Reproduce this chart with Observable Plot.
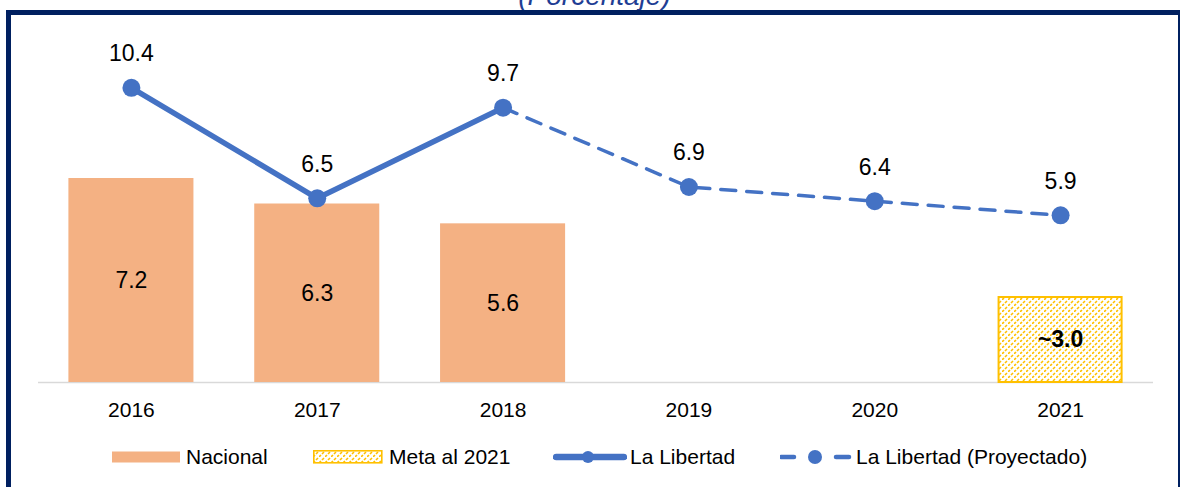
<!DOCTYPE html>
<html>
<head>
<meta charset="utf-8">
<script src="https://cdn.jsdelivr.net/npm/d3@7"></script>
<script src="https://cdn.jsdelivr.net/npm/@observablehq/plot@0.6"></script>
<style>
  html, body { margin: 0; padding: 0; background: #fff; }
  #wrap { position: relative; width: 1181px; height: 487px; overflow: hidden; font-family: "Liberation Sans", Arial, sans-serif; }
  #subtitle { position: absolute; left: 0; width: 1181px; top: -18px; text-align: center; font-size: 28px; line-height: 28px; font-style: italic; color: #1f3e94; padding-left: 8px; box-sizing: border-box; }
  #frame { position: absolute; left: 6px; top: 10px; width: 1174px; height: 500px; box-sizing: border-box; border-top: 5px solid #002060; border-left: 5px solid #002060; border-right: 2px solid #002060; z-index: 3; pointer-events: none; }
  #chart { position: absolute; left: 0; top: 0; }
  .lg { position: absolute; top: 445px; height: 24px; display: flex; align-items: center; font-size: 21px; color: #000; white-space: nowrap; }
  .lg svg { display: block; margin-right: 6px; }
</style>
</head>
<body>
<div id="wrap">
  <div id="subtitle">(Porcentaje)</div>
  <div id="chart"></div>
  <div id="frame"></div>
  <div class="lg" style="left:112px"><svg width="68" height="24"><rect x="0" y="6.5" width="68" height="11" fill="#F4B183"/></svg><span>Nacional</span></div>
  <div class="lg" style="left:313px"><svg width="70" height="24"><defs><pattern id="hatchL" patternUnits="userSpaceOnUse" width="6" height="6"><path d="M0,6 L2,4 M3,3 L5,1" stroke="#FFC000" stroke-width="1.6"/></pattern></defs><rect x="0.8" y="5.8" width="68" height="12" fill="url(#hatchL)" stroke="#FFC000" stroke-width="1.6"/></svg><span>Meta al 2021</span></div>
  <div class="lg" style="left:553px"><svg width="74" height="24" style="margin-right:3px"><line x1="3" y1="12" x2="71" y2="12" stroke="#4472C4" stroke-width="6.5" stroke-linecap="round"/><circle cx="35" cy="12" r="6" fill="#4472C4"/></svg><span>La Libertad</span></div>
  <div class="lg" style="left:780px"><svg width="72" height="24" style="margin-right:4px"><line x1="1" y1="12" x2="14" y2="12" stroke="#4472C4" stroke-width="4.5" stroke-linecap="round"/><circle cx="35" cy="12" r="7" fill="#4472C4"/><line x1="56" y1="12" x2="69" y2="12" stroke="#4472C4" stroke-width="4.5" stroke-linecap="round"/></svg><span>La Libertad (Proyectado)</span></div>
</div>
<script>
const years = ["2016", "2017", "2018", "2019", "2020", "2021"];
const nacionalYears = ["2016", "2017", "2018"];
const nacionalValues = [7.2, 6.3, 5.6];
const libertadYears = ["2016", "2017", "2018"];
const libertadValues = [10.4, 6.5, 9.7];
const proyectadoYears = ["2018", "2019", "2020", "2021"];
const proyectadoValues = [9.7, 6.9, 6.4, 5.9];
const metaYears = ["2021"];
const metaValues = [3.0];
const metaLabels = ["~3.0"];

const nacional = nacionalYears.map((year, i) => ({year, value: nacionalValues[i]}));
const libertad = libertadYears.map((year, i) => ({year, value: libertadValues[i]}));
const proyectado = proyectadoYears.map((year, i) => ({year, value: proyectadoValues[i]}));
const proyectadoOnly = proyectado.slice(1);
const meta = metaYears.map((year, i) => ({year, value: metaValues[i], label: metaLabels[i]}));

const font = "Liberation Sans, Arial, sans-serif";

const chart = Plot.plot({
  width: 1181,
  height: 430,
  marginLeft: 38,
  marginRight: 28,
  marginTop: 42,
  marginBottom: 48,
  style: {background: "transparent", fontFamily: font, overflow: "visible"},
  x: {type: "band", domain: years, padding: 0, round: false, label: null},
  y: {domain: [0, 12], axis: null},
  marks: [
    Plot.ruleY([0], {stroke: "#D9D9D9", strokeWidth: 1.5}),
    Plot.axisX({tickSize: 0, tickPadding: 20, fontSize: 21, fill: "#000", label: null}),
    Plot.barY(nacional, {x: "year", y: "value", fill: "#F4B183", insetLeft: 30.4, insetRight: 30.4}),
    Plot.barY(meta, {x: "year", y: "value", fill: "url(#hatch)", stroke: "#FFC000", strokeWidth: 2, insetLeft: 31.4, insetRight: 31.4}),
    Plot.text(nacional, {x: "year", y: d => d.value / 2, text: d => d.value.toFixed(1), fontSize: 23, fill: "#000"}),
    Plot.text(meta, {x: "year", y: d => d.value / 2, text: "label", fontSize: 23, fontWeight: "bold", fill: "#000"}),
    Plot.line(proyectado, {x: "year", y: "value", stroke: "#4472C4", strokeWidth: 3.5, strokeDasharray: "15,11"}),
    Plot.line(libertad, {x: "year", y: "value", stroke: "#4472C4", strokeWidth: 5.5}),
    Plot.dot(libertad, {x: "year", y: "value", r: 9, fill: "#4472C4"}),
    Plot.dot(proyectadoOnly, {x: "year", y: "value", r: 9, fill: "#4472C4"}),
    Plot.text(libertad, {x: "year", y: "value", text: d => d.value.toFixed(1), dy: -34, fontSize: 23, fill: "#000"}),
    Plot.text(proyectadoOnly, {x: "year", y: "value", text: d => d.value.toFixed(1), dy: -34, fontSize: 23, fill: "#000"})
  ]
});

// hatch pattern for the goal bar
const ns = "http://www.w3.org/2000/svg";
const defs = document.createElementNS(ns, "defs");
defs.innerHTML = '<pattern id="hatch" patternUnits="userSpaceOnUse" width="6" height="6"><path d="M0,6 L2,4 M3,3 L5,1" stroke="#FFC000" stroke-width="1.6"/></pattern>';
chart.insertBefore(defs, chart.firstChild);

document.getElementById("chart").appendChild(chart);
</script>
</body>
</html>
